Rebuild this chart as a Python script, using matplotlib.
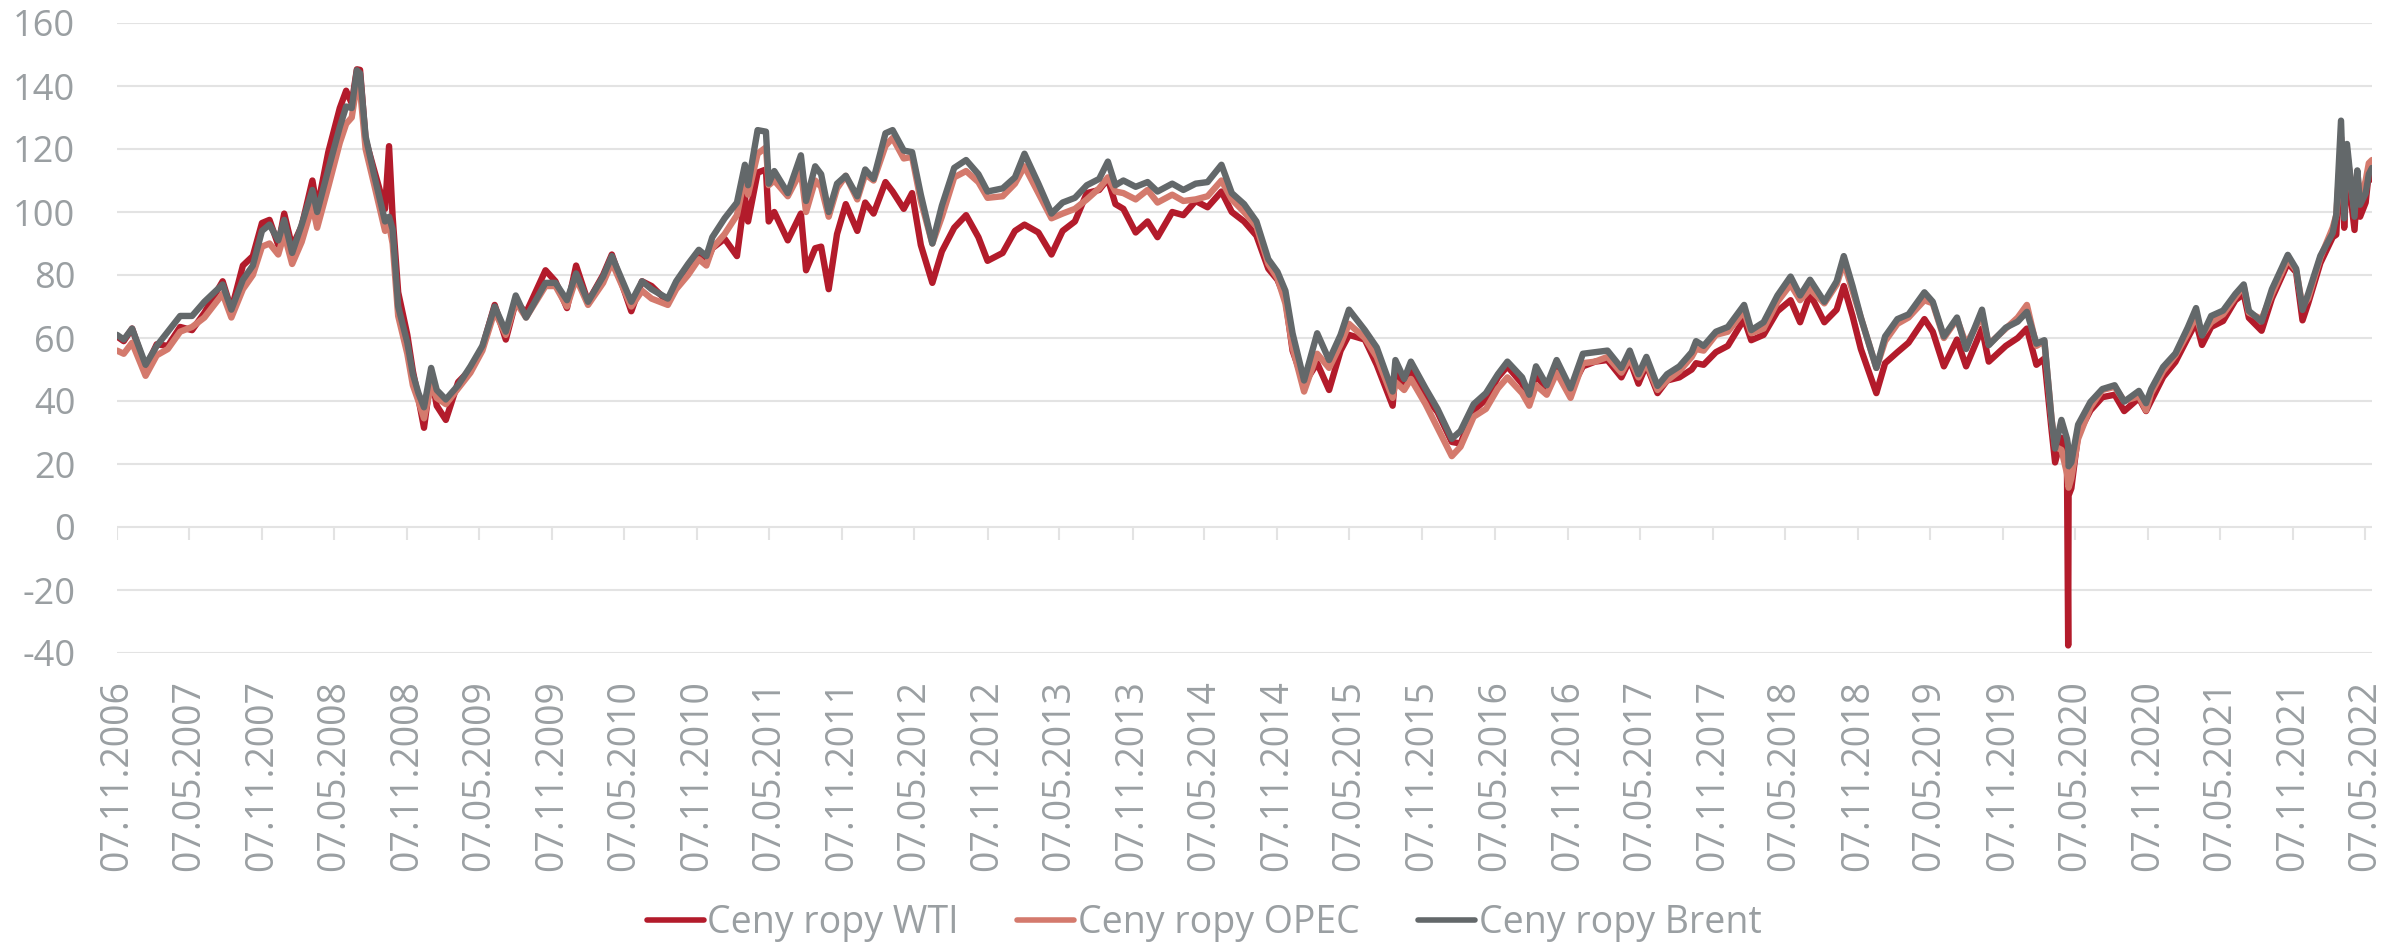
import matplotlib
matplotlib.use("Agg")
import matplotlib.pyplot as plt
from datetime import datetime

plt.rcParams['font.family'] = ['Open Sans', 'DejaVu Sans']
plt.rcParams['axes.unicode_minus'] = False

# ---------------- data ----------------
dates = [
    # 2006
    "2006-11-07", "2006-11-24", "2006-12-15",
    # 2007
    "2007-01-18", "2007-02-15", "2007-03-15", "2007-04-15", "2007-05-15", "2007-06-15", "2007-07-31",
    "2007-08-22", "2007-09-20", "2007-10-15", "2007-11-07", "2007-11-26", "2007-12-18",
    # 2008
    "2008-01-02", "2008-01-22", "2008-02-15", "2008-03-13", "2008-03-25", "2008-04-22", "2008-05-21",
    "2008-06-06", "2008-06-20", "2008-07-03", "2008-07-11", "2008-07-25", "2008-08-15", "2008-09-12",
    "2008-09-22", "2008-10-01", "2008-10-15", "2008-11-07", "2008-11-21", "2008-12-05", "2008-12-19",
    # 2009
    "2009-01-06", "2009-01-20", "2009-02-12", "2009-03-15", "2009-04-15", "2009-05-15", "2009-06-15",
    "2009-07-13", "2009-08-07", "2009-09-02", "2009-10-21", "2009-11-15", "2009-12-14",
    # 2010
    "2010-01-06", "2010-02-05", "2010-03-15", "2010-04-06", "2010-05-25", "2010-06-21", "2010-07-15",
    "2010-08-25", "2010-09-15", "2010-10-15", "2010-11-11", "2010-11-30", "2010-12-15",
    # 2011
    "2011-01-15", "2011-02-15", "2011-03-07", "2011-03-15", "2011-04-08", "2011-04-29", "2011-05-06",
    "2011-05-20", "2011-06-23", "2011-07-26", "2011-08-08", "2011-08-31", "2011-09-15", "2011-10-04",
    "2011-10-25", "2011-11-16", "2011-12-15",
    # 2012
    "2012-01-04", "2012-01-25", "2012-02-24", "2012-03-13", "2012-04-10", "2012-05-01", "2012-05-23",
    "2012-06-21", "2012-07-15", "2012-08-15", "2012-09-14", "2012-10-15", "2012-11-07", "2012-12-15",
    # 2013
    "2013-01-15", "2013-02-08", "2013-03-15", "2013-04-17", "2013-05-15", "2013-06-15", "2013-07-15",
    "2013-08-15", "2013-09-06", "2013-09-25", "2013-10-15", "2013-11-15", "2013-12-15",
    # 2014
    "2014-01-09", "2014-02-15", "2014-03-15", "2014-04-15", "2014-05-15", "2014-06-19", "2014-07-15",
    "2014-08-15", "2014-09-15", "2014-10-15", "2014-11-07", "2014-11-27", "2014-12-15",
    # 2015
    "2015-01-13", "2015-02-15", "2015-03-17", "2015-04-15", "2015-05-06", "2015-06-15", "2015-07-15",
    "2015-08-24", "2015-08-31", "2015-09-22", "2015-10-09", "2015-11-15", "2015-12-15",
    # 2016
    "2016-01-20", "2016-02-11", "2016-03-15", "2016-04-15", "2016-05-15", "2016-06-08", "2016-07-15",
    "2016-08-02", "2016-08-19", "2016-09-15", "2016-10-10", "2016-11-14", "2016-12-15",
    # 2017
    "2017-01-15", "2017-02-15", "2017-03-22", "2017-04-12", "2017-05-04", "2017-05-24", "2017-06-21",
    "2017-07-15", "2017-08-15", "2017-09-15", "2017-09-26", "2017-10-15", "2017-11-15", "2017-12-15",
    # 2018
    "2018-01-25", "2018-02-12", "2018-03-15", "2018-04-19", "2018-05-22", "2018-06-15", "2018-07-10",
    "2018-08-15", "2018-09-15", "2018-10-03", "2018-10-25", "2018-11-15", "2018-12-24",
    # 2019
    "2019-01-15", "2019-02-15", "2019-03-15", "2019-04-24", "2019-05-15", "2019-06-12", "2019-07-15",
    "2019-08-07", "2019-09-16", "2019-10-03", "2019-11-15", "2019-12-15",
    # 2020
    "2020-01-07", "2020-01-31", "2020-02-20", "2020-03-09", "2020-03-18", "2020-04-03", "2020-04-17",
    "2020-04-20", "2020-04-21", "2020-04-28", "2020-05-15", "2020-06-15", "2020-07-15", "2020-08-15",
    "2020-09-08", "2020-10-15", "2020-11-02", "2020-11-15", "2020-12-15",
    # 2021
    "2021-01-15", "2021-02-15", "2021-03-08", "2021-03-23", "2021-04-15", "2021-05-15", "2021-06-15",
    "2021-07-06", "2021-07-19", "2021-08-20", "2021-09-15", "2021-10-25", "2021-11-15", "2021-12-01",
    "2021-12-15",
    # 2022
    "2022-01-15", "2022-02-15", "2022-02-24", "2022-03-08", "2022-03-16", "2022-03-23", "2022-04-11",
    "2022-04-18", "2022-04-25", "2022-05-09", "2022-05-17", "2022-05-25",
]

wti = [
    60.5, 59.0, 63.0,
    50.5, 58.0, 57.5, 63.5, 62.5, 68.0, 78.0, 69.0, 83.0, 86.0, 96.5, 97.5, 89.5,
    99.5, 89.0, 95.5, 110.0, 101.0, 119.0, 133.0, 138.5, 134.5, 145.3, 145.1, 123.0, 113.5, 101.0,
    120.9, 98.5, 74.5, 61.0, 49.5, 40.8, 31.5,
    48.5, 38.5, 34.0, 46.0, 50.0, 57.0, 70.5, 59.5, 71.5, 68.0, 81.5, 78.0, 69.5,
    83.0, 71.5, 80.0, 86.5, 68.5, 78.0, 76.5, 71.5, 76.5, 81.5, 87.5, 84.0, 88.5,
    91.5, 86.0, 105.0, 97.0, 112.5, 113.5, 97.0, 100.0, 91.0, 99.5, 81.5, 88.5, 89.0, 75.5, 93.0, 102.5, 94.0,
    103.0, 99.5, 109.5, 106.5, 101.0, 106.0, 89.5, 77.5, 87.5, 95.0, 99.0, 92.0, 84.5, 87.0,
    94.0, 96.0, 93.5, 86.5, 94.0, 97.0, 106.0, 107.0, 110.5, 102.5, 101.0, 93.5, 97.0,
    92.0, 100.0, 99.0, 103.5, 101.5, 106.5, 100.0, 97.0, 92.5, 82.0, 78.5, 72.5, 56.0,
    45.5, 52.0, 43.5, 56.0, 61.0, 59.5, 51.5, 38.5, 49.0, 45.0, 49.5, 41.5, 36.5,
    27.0, 26.5, 37.0, 40.5, 47.5, 51.0, 45.5, 40.0, 48.5, 43.5, 51.0, 43.5, 51.0,
    52.5, 53.0, 47.5, 53.0, 45.5, 51.5, 42.5, 46.5, 47.5, 50.0, 52.0, 51.5, 55.5, 57.5,
    66.0, 59.3, 61.0, 68.5, 72.0, 65.0, 74.0, 65.0, 69.0, 76.5, 67.0, 56.5, 42.5,
    52.0, 55.5, 58.5, 66.0, 62.0, 51.0, 59.5, 51.0, 63.0, 52.5, 57.5, 60.0,
    63.0, 51.5, 53.5, 31.0, 20.5, 28.3, 18.3, -37.6, 10.0, 12.3, 29.5, 37.0, 41.2, 42.0, 36.8, 40.9, 36.8, 40.1, 47.6,
    52.4, 60.0, 65.0, 57.8, 63.5, 65.4, 72.0, 74.0, 66.4, 62.3, 72.6, 83.8, 80.9, 65.6, 70.9,
    83.8, 92.0, 92.8, 123.7, 95.0, 114.9, 94.3, 108.2, 98.5, 103.0, 112.4, 110.3,
]

opec = [
    56.0, 55.0, 58.5,
    48.0, 54.5, 56.5, 62.0, 63.5, 66.5, 74.0, 66.5, 75.5, 80.0, 89.0, 90.0, 86.5,
    93.0, 83.5, 90.5, 102.0, 95.0, 108.0, 122.0, 128.0, 130.0, 140.5, 139.0, 120.0, 109.0, 94.0,
    96.0, 90.0, 67.0, 55.0, 45.0, 40.0, 34.5,
    45.0, 41.0, 39.0, 44.0, 49.0, 56.0, 68.5, 61.0, 71.5, 66.5, 76.5, 76.5, 70.0,
    79.0, 70.5, 77.5, 84.0, 70.0, 75.0, 72.5, 70.5, 75.5, 80.0, 85.0, 83.0, 88.5,
    93.0, 99.0, 111.5, 105.5, 118.5, 120.5, 108.5, 110.0, 105.0, 113.0, 100.0, 110.0, 108.0, 98.5, 107.5, 111.5, 104.0,
    112.0, 110.0, 121.0, 123.5, 117.0, 117.5, 103.5, 90.0, 98.5, 111.0, 113.0, 109.5, 104.5, 105.0,
    109.0, 114.5, 106.0, 98.0, 99.5, 101.0, 104.0, 107.5, 111.0, 106.5, 106.0, 104.0, 107.0,
    103.0, 105.5, 103.5, 104.0, 105.0, 110.0, 104.0, 100.0, 95.5, 83.5, 79.0, 71.0, 57.0,
    43.0, 55.0, 50.5, 58.0, 64.5, 60.0, 54.0, 41.0, 46.0, 43.5, 47.0, 39.0, 31.5,
    22.5, 25.5, 35.0, 37.5, 44.0, 47.5, 42.5, 38.5, 45.0, 42.0, 49.0, 41.0, 52.0,
    52.5, 54.0, 49.0, 53.5, 47.5, 52.0, 43.5, 46.5, 49.5, 54.0, 56.5, 56.0, 61.0, 62.0,
    68.5, 61.5, 63.0, 71.5, 77.0, 72.0, 75.5, 71.0, 77.0, 84.0, 75.0, 66.5, 50.5,
    59.0, 64.5, 66.5, 72.0, 71.0, 60.0, 66.0, 58.0, 67.0, 58.0, 63.0, 66.5,
    70.5, 57.5, 59.0, 34.5, 25.5, 24.5, 17.0, 13.5, 12.5, 15.5, 28.0, 38.0, 43.5, 44.5, 40.0, 41.5, 37.0, 42.5, 49.5,
    54.5, 61.5, 67.0, 61.0, 65.0, 67.5, 73.0, 76.5, 68.0, 66.0, 74.0, 85.0, 81.5, 70.0, 72.5,
    85.5, 95.0, 99.0, 121.0, 101.0, 119.0, 100.0, 113.0, 103.0, 110.0, 115.5, 116.5,
]

brent = [
    61.0, 59.5, 63.0,
    51.5, 57.5, 62.0, 67.0, 67.0, 71.5, 77.0, 69.0, 78.5, 83.0, 94.0, 96.0, 91.0,
    97.5, 87.0, 96.0, 107.0, 100.0, 113.5, 127.0, 133.5, 133.0, 145.0, 144.0, 124.0, 112.0, 97.0,
    98.5, 94.5, 70.0, 58.5, 48.5, 42.5, 38.0,
    50.5, 43.5, 40.5, 45.0, 51.0, 57.5, 70.0, 62.0, 73.5, 66.5, 77.5, 77.5, 72.0,
    80.5, 71.5, 79.5, 86.0, 71.5, 78.0, 75.5, 72.5, 78.0, 83.5, 88.0, 86.0, 92.0,
    98.0, 103.0, 115.0, 108.5, 126.0, 125.5, 109.0, 113.0, 106.0, 118.0, 103.5, 114.5, 112.0, 100.0, 109.0, 111.5, 105.0,
    113.5, 110.5, 125.0, 126.0, 119.5, 119.0, 105.5, 90.0, 102.0, 114.0, 116.5, 112.0, 106.5, 107.5,
    111.0, 118.5, 109.0, 99.5, 103.0, 104.5, 108.5, 110.5, 116.0, 108.5, 110.0, 108.0, 109.5,
    106.5, 109.0, 107.0, 109.0, 109.5, 115.0, 106.0, 102.5, 97.0, 85.0, 81.0, 75.0, 61.5,
    46.5, 61.5, 53.0, 61.0, 69.0, 62.5, 57.0, 43.0, 53.0, 47.0, 52.5, 44.0, 37.5,
    28.0, 30.5, 39.0, 42.5, 48.5, 52.5, 47.5, 42.0, 51.0, 45.0, 53.0, 44.0, 55.0,
    55.5, 56.0, 50.5, 56.0, 48.5, 54.0, 44.8, 48.5, 51.0, 55.5, 59.0, 57.5, 62.0, 63.5,
    70.5, 62.5, 65.0, 73.5, 79.5, 73.5, 78.5, 71.5, 78.0, 86.0, 76.5, 66.5, 50.5,
    60.5, 66.0, 67.5, 74.5, 71.5, 60.5, 66.5, 56.5, 69.0, 57.7, 63.3, 65.2,
    68.3, 58.2, 59.3, 34.4, 24.9, 34.0, 28.0, 25.6, 19.3, 20.5, 32.5, 39.7, 43.8, 45.0, 39.8, 43.2, 39.3, 43.8, 50.8,
    55.1, 63.3, 69.5, 60.8, 67.0, 68.7, 74.0, 77.0, 68.6, 65.2, 75.5, 86.4, 82.0, 68.9, 73.9,
    86.1, 93.3, 99.1, 129.0, 98.0, 121.6, 98.5, 113.2, 102.3, 105.9, 112.0, 114.0,
]

series_names = ["Ceny ropy WTI", "Ceny ropy OPEC", "Ceny ropy Brent"]

tick_labels = [
    "07.11.2006", "07.05.2007", "07.11.2007", "07.05.2008", "07.11.2008", "07.05.2009",
    "07.11.2009", "07.05.2010", "07.11.2010", "07.05.2011", "07.11.2011", "07.05.2012",
    "07.11.2012", "07.05.2013", "07.11.2013", "07.05.2014", "07.11.2014", "07.05.2015",
    "07.11.2015", "07.05.2016", "07.11.2016", "07.05.2017", "07.11.2017", "07.05.2018",
    "07.11.2018", "07.05.2019", "07.11.2019", "07.05.2020", "07.11.2020", "07.05.2021",
    "07.11.2021", "07.05.2022",
]

y_ticks = [-40, -20, 0, 20, 40, 60, 80, 100, 120, 140, 160]

assert len(dates) == len(wti) == len(opec) == len(brent)

# ---------------- styling ----------------
COL_WTI = "#B31B2B"
COL_OPEC = "#D47A6D"
COL_BRENT = "#63686A"
TXT = "#9A9FA2"
GRID = "#E3E3E3"

W, H = 2408, 944
fig = plt.figure(figsize=(W / 100, H / 100), dpi=100)
left_px, right_px, top_px, bot_px = 117, 2372, 23, 653
ax = fig.add_axes([left_px / W, 1 - bot_px / H, (right_px - left_px) / W, (bot_px - top_px) / H])

x = [datetime.strptime(d, "%Y-%m-%d") for d in dates]
lw = 4.6
for vals, col, name, z in [(wti, COL_WTI, series_names[0], 3),
                           (opec, COL_OPEC, series_names[1], 4),
                           (brent, COL_BRENT, series_names[2], 5)]:
    ax.plot(x, vals, color=col, lw=lw, solid_joinstyle="round", solid_capstyle="round",
            label=name, zorder=z)

ax.set_xlim(datetime(2006, 11, 7), datetime(2022, 5, 25))
ax.set_ylim(y_ticks[0], y_ticks[-1])
ax.set_yticks(y_ticks)
ax.set_yticklabels([str(v) for v in y_ticks])
ax.yaxis.grid(True, color=GRID, lw=1.5)
ax.xaxis.grid(False)
ax.set_axisbelow(True)
for s in ax.spines.values():
    s.set_visible(False)

tick_dates = [datetime.strptime(t, "%d.%m.%Y") for t in tick_labels]
ax.set_xticks(tick_dates)
ax.set_xticklabels(tick_labels, rotation=90)
ax.tick_params(axis="x", length=0, pad=19.5, labelsize=27, labelcolor=TXT)
ax.tick_params(axis="y", length=0, pad=30, labelsize=26, labelcolor=TXT)

# small tick marks hanging below the zero line
tick_len = 13 / ((bot_px - top_px) / (y_ticks[-1] - y_ticks[0]))
ax.vlines(tick_dates, -tick_len, 0, colors=GRID, lw=1.5, zorder=1)

handles, labels = ax.get_legend_handles_labels()
leg = fig.legend(handles, labels, loc="center", bbox_to_anchor=(0.5, 1 - 923 / H), ncol=3,
                 frameon=False, fontsize=27, handlelength=1.52, handletextpad=0.1,
                 columnspacing=1.55, labelcolor=TXT)
for line in leg.get_lines():
    line.set_linewidth(4.0)

fig.savefig("out.png", dpi=100)
